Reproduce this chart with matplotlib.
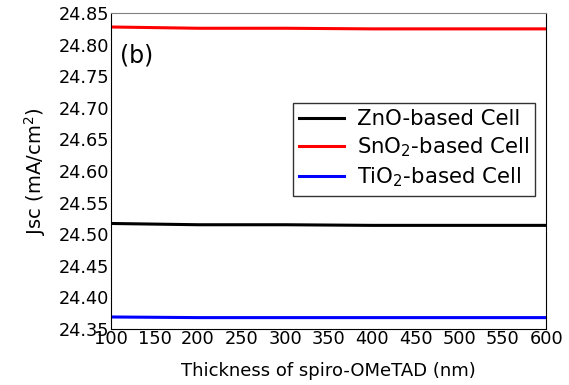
import matplotlib.pyplot as plt

# spiro-OMeTAD thickness (nm) and Jsc values
thickness = [100, 200, 300, 400, 500, 600]
jsc_zno = [24.517, 24.515, 24.515, 24.514, 24.514, 24.514]
jsc_sno2 = [24.828, 24.826, 24.826, 24.825, 24.825, 24.825]
jsc_tio2 = [24.369, 24.368, 24.368, 24.368, 24.368, 24.368]

x_ticks = list(range(100, 601, 50))
y_ticks = [24.35, 24.40, 24.45, 24.50, 24.55, 24.60, 24.65, 24.70, 24.75, 24.80, 24.85]

plt.rcParams['font.family'] = ['DejaVu Sans']
plt.rcParams['mathtext.default'] = 'regular'

fig = plt.figure(figsize=(5.69, 3.85), dpi=100)
ax = fig.add_axes([0.195, 0.1455, 0.765, 0.8205])

ax.plot(thickness, jsc_zno, color='black', lw=2.2, label='ZnO-based Cell')
ax.plot(thickness, jsc_sno2, color='red', lw=2.2, label='SnO$_2$-based Cell')
ax.plot(thickness, jsc_tio2, color='blue', lw=2.2, label='TiO$_2$-based Cell')

ax.set_xlim(100, 600)
ax.set_ylim(24.35, 24.85)
ax.set_xticks(x_ticks)
ax.set_yticks(y_ticks)
ax.set_yticklabels(['%.2f' % v for v in y_ticks])
ax.tick_params(length=0, labelsize=12.8, pad=1)

ax.spines['top'].set_color('grey')
for s in ['left', 'bottom', 'right']:
    ax.spines[s].set_color('black')

ax.set_xlabel('Thickness of spiro-OMeTAD (nm)', fontsize=13, labelpad=10)
ax.set_ylabel('Jsc (mA/cm$^2$)', fontsize=14, labelpad=8)

ax.text(0.02, 0.867, '(b)', transform=ax.transAxes, fontsize=17, va='center')

leg = ax.legend(loc='upper right', bbox_to_anchor=(0.975, 0.715), fontsize=15.3,
                frameon=True, fancybox=False, borderaxespad=0, handlelength=2.1,
                labelspacing=0.3, borderpad=0.3, handletextpad=0.6)
leg.get_frame().set_edgecolor('black')
leg.get_frame().set_linewidth(1.0)

fig.savefig('out.png', dpi=100)
